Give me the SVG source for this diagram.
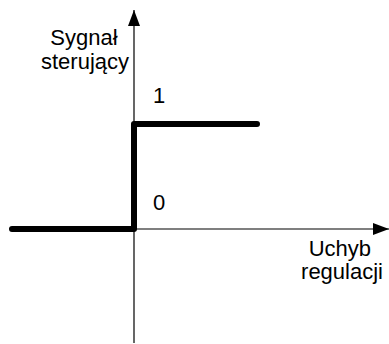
<svg xmlns="http://www.w3.org/2000/svg" width="389" height="344" viewBox="0 0 389 344">
<style>
.lbl{font-family:"Liberation Sans",Arial,sans-serif;font-size:22px;fill:#000}
.axis{stroke:#000;stroke-width:1.2;fill:none}
.curve{stroke:#000;stroke-width:6;fill:none;stroke-linecap:round;stroke-linejoin:round}
</style>
<defs>
<marker id="ah" markerWidth="16" markerHeight="12" refX="16" refY="6" orient="auto" markerUnits="userSpaceOnUse">
<path d="M0,0 L16,6 L0,12 Z" fill="#000"/>
</marker>
</defs>
<g id="connectors">
<line class="axis" x1="134" y1="343" x2="134" y2="10" marker-end="url(#ah)"/>
<line class="axis" x1="134" y1="229" x2="389" y2="229" marker-end="url(#ah)"/>
<polyline class="curve" points="12,229 134,229 134,124 257,124"/>
</g>
<g id="ylabel">
<text class="lbl" x="84" y="45" text-anchor="middle">Sygnał</text>
<text class="lbl" x="85" y="69" text-anchor="middle">sterujący</text>
</g>
<g id="xlabel">
<text class="lbl" x="371" y="256" text-anchor="end">Uchyb</text>
<text class="lbl" x="383" y="279" text-anchor="end">regulacji</text>
</g>
<g id="ticks">
<text class="lbl" x="153" y="103">1</text>
<text class="lbl" x="153" y="210">0</text>
</g>
</svg>
